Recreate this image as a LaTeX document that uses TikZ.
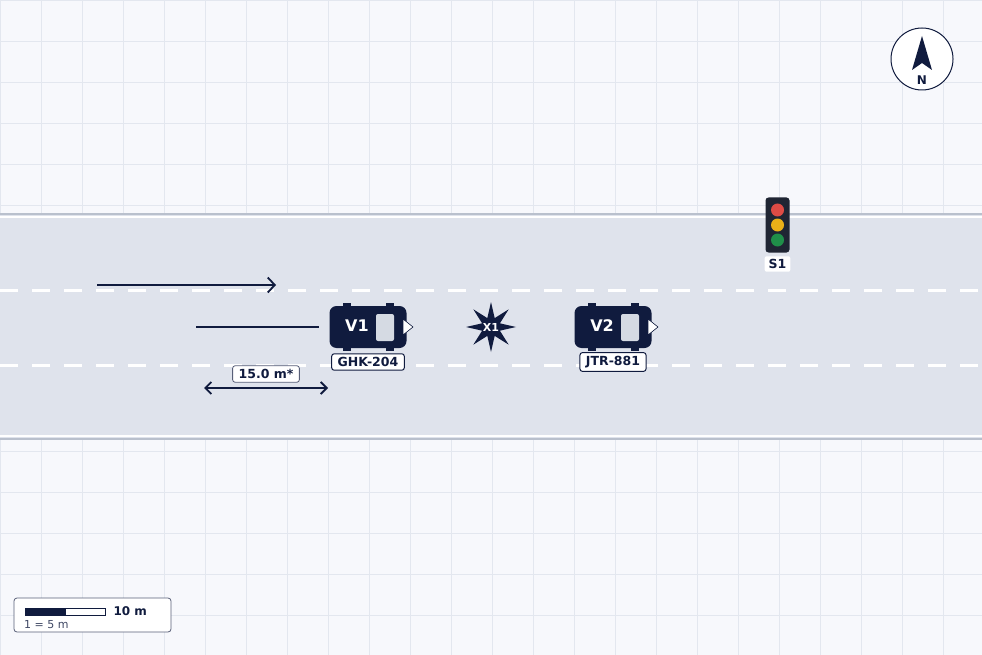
\documentclass[tikz,border=0pt]{standalone}
\usepackage{fontspec}
\setmainfont{DejaVu Sans}
\usetikzlibrary{arrows.meta,shapes.geometric}
\definecolor{navy}{HTML}{101B3E}
\definecolor{bg}{HTML}{F7F8FC}
\definecolor{gridc}{HTML}{E3E7EF}
\definecolor{road}{HTML}{DFE3EC}
\definecolor{edge}{HTML}{B9C0CD}
\definecolor{win}{HTML}{D5DAE3}
\definecolor{tl}{HTML}{1F2533}
\definecolor{lred}{HTML}{DD4B45}
\definecolor{lyel}{HTML}{EAB018}
\definecolor{lgrn}{HTML}{1F8F49}
\tikzset{
 plate/.style={draw=navy,fill=white,rounded corners=2.5pt,line width=1pt,inner xsep=6pt,inner ysep=3.5pt,font=\bfseries\fontsize{12.5}{13}\selectfont,text=navy},
 lamp/.style={circle,minimum size=13pt,inner sep=0pt},
}
\begin{document}
\begin{tikzpicture}[x=1pt,y=-1pt]
\useasboundingbox (0,0) rectangle (982,655);
\fill[bg] (0,0) rectangle (982,655);
\foreach \x in {0,41,...,982} \draw[gridc,line width=0.6pt] (\x,0) -- (\x,655);
\foreach \y in {0,41,...,655} \draw[gridc,line width=0.6pt] (0,\y) -- (982,\y);
\fill[road] (0,213) rectangle (982,440);
\draw[edge,line width=2pt] (0,214) -- (982,214);
\draw[white,line width=1.2pt] (0,217) -- (982,217);
\draw[edge,line width=2pt] (0,439) -- (982,439);
\draw[white,line width=1.2pt] (0,436) -- (982,436);
\foreach \y in {290,365} \draw[white,line width=3pt,dash pattern=on 18pt off 14pt] (0,\y) -- (982,\y);
% arrows
\coordinate (a1) at (97,285); \coordinate (a2) at (276,285);
\draw[navy,line width=1.8pt,-{Straight Barb[length=7pt,width=15pt]}] (a1) -- (a2);
\coordinate (p1) at (196,327); \coordinate (p2) at (319,327);
\draw[navy,line width=1.8pt] (p1) -- (p2);
\coordinate (d1) at (204,388); \coordinate (d2) at (328,388);
\draw[navy,line width=1.8pt,{Straight Barb[length=6pt,width=12pt]}-{Straight Barb[length=6pt,width=12pt]}] (d1) -- (d2);
\node[plate,draw=navy!70,line width=0.8pt] (dl) at (266,374) {15.0 m*};
% vehicles
\foreach \n/\cx/\pl in {V1/368/GHK-204,V2/613/JTR-881}{
 \fill[navy] (\cx-25,303) rectangle (\cx-17,351);
 \fill[navy] (\cx+18,303) rectangle (\cx+26,351);
 \node[fill=navy,rounded corners=7pt,minimum width=77pt,minimum height=42pt,inner sep=0pt] (\n) at (\cx,327) {};
 \node[text=white,font=\bfseries\fontsize{16}{18}\selectfont] at (\cx-11,326) {\n};
 \fill[win,rounded corners=2pt] (\cx+8,314) rectangle (\cx+26,341);
 \draw[navy,fill=white,line width=0.6pt] (\cx+35,319) -- (\cx+45,327) -- (\cx+35,335) -- cycle;
 \node[plate] (\n p) at (\cx,362) {\pl};
}
% star
\node[star,star points=8,star point ratio=2.6,minimum size=50pt,fill=navy,inner sep=0pt] (x1) at (491,327) {};
\node[text=white,font=\bfseries\fontsize{11}{12}\selectfont] at (x1) {X1};
% traffic light
\node[fill=tl,rounded corners=3pt,minimum width=24pt,minimum height=55pt,inner sep=0pt] (s1box) at (777.5,225) {};
\node[lamp,fill=lred] at (777.5,210) {};
\node[lamp,fill=lyel] at (777.5,225) {};
\node[lamp,fill=lgrn] at (777.5,240) {};
\node[fill=white,rounded corners=2pt,inner xsep=4pt,inner ysep=3pt,text=navy,font=\bfseries\fontsize{12.5}{13}\selectfont] (s1) at (777.5,264) {S1};
% compass
\node[circle,draw=navy,fill=white,line width=1pt,minimum size=62pt] (comp) at (922,59) {};
\fill[navy] (922,36) -- (932,70) -- (922,63) -- (912,70) -- cycle;
\node[text=navy,font=\bfseries\fontsize{12}{13}\selectfont] at (922,80) {N};
% scale
\node[draw=navy!70,fill=white,rounded corners=3pt,line width=0.8pt,minimum width=157pt,minimum height=34pt] (sc) at (92.5,615) {};
\fill[navy] (25,608) rectangle (66,615);
\draw[navy,line width=0.6pt] (25,608) rectangle (105,615);
\node[anchor=west,text=navy,font=\bfseries\fontsize{12}{13}\selectfont] at (110,611.5) {10 m};
\node[anchor=west,text=navy!80,font=\fontsize{11}{12}\selectfont,inner sep=0pt] at (24,625) {1 = 5 m};
\end{tikzpicture}
\end{document}
